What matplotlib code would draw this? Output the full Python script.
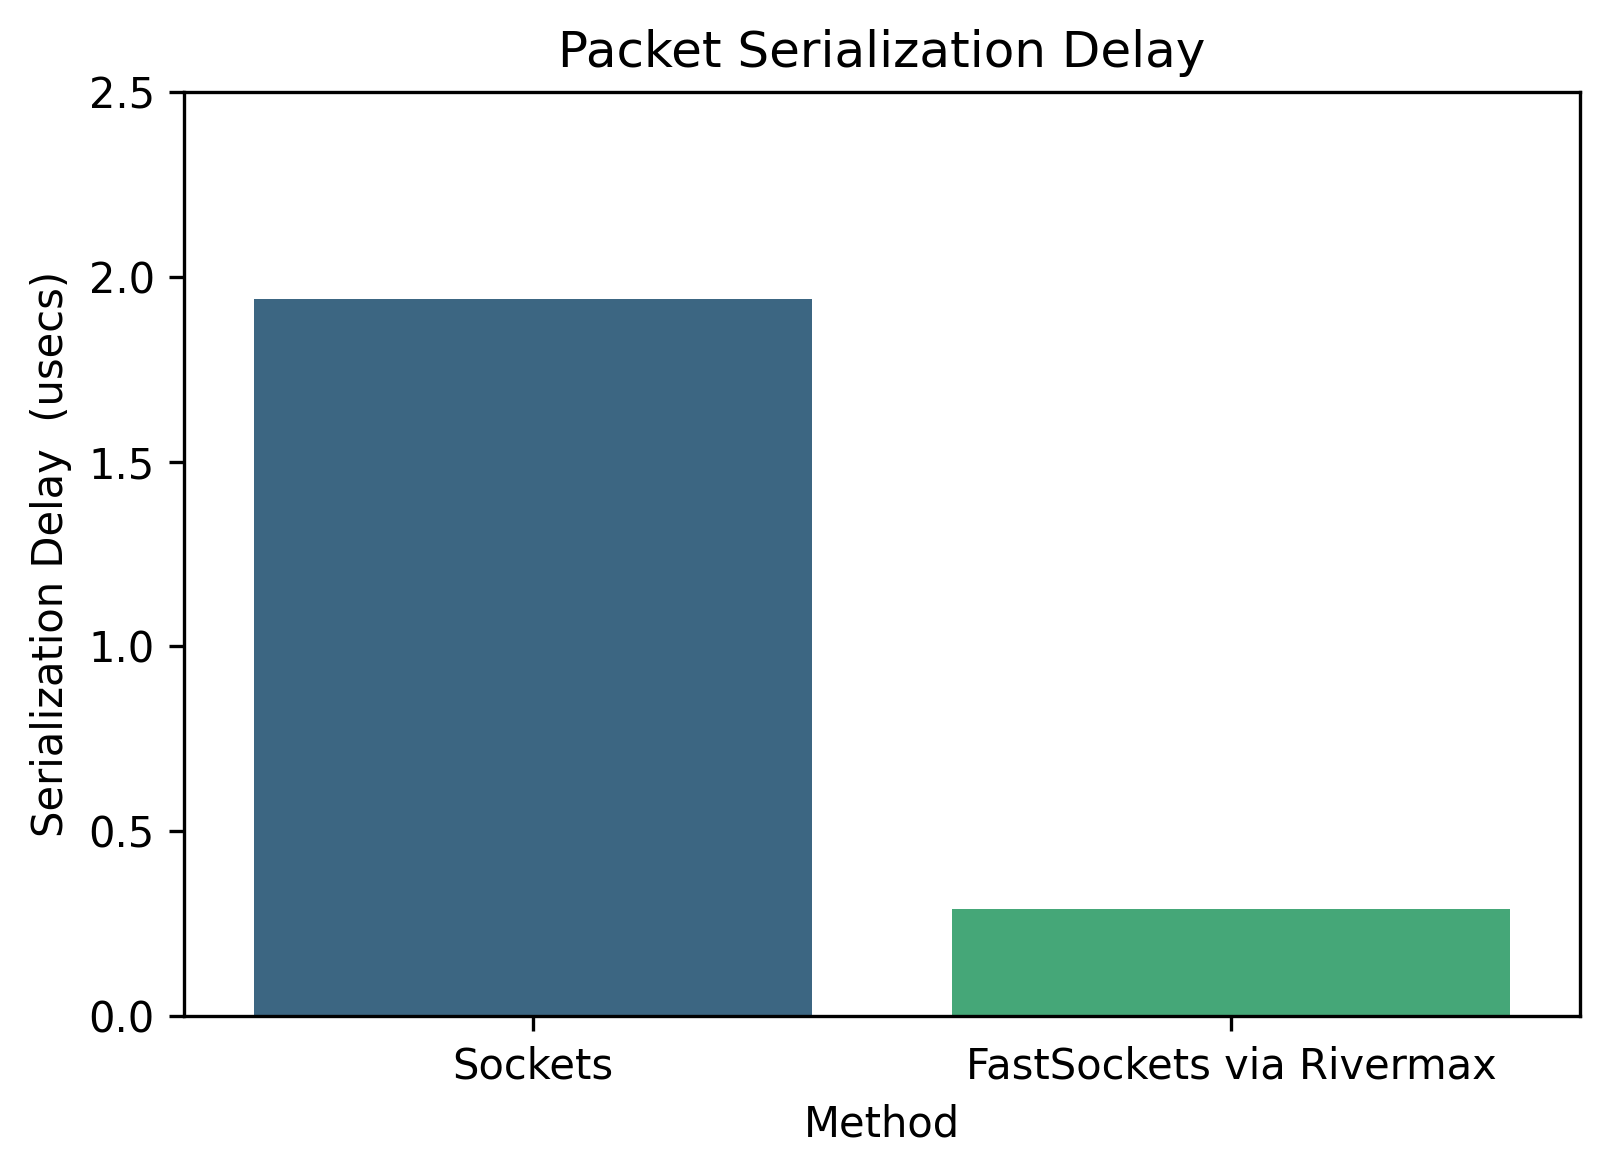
import matplotlib
matplotlib.use("Agg")
import matplotlib.pyplot as plt
import seaborn as sns
import pandas as pd

methods = ["Sockets", "FastSockets via Rivermax"]
delay_usecs = [1.94, 0.29]

df = pd.DataFrame({"Method": methods, "Delay": delay_usecs})

W, H = 1609, 1176
fig = plt.figure(figsize=(W / 300, H / 300), dpi=300)
# axes box measured on the reference, in pixels
ax = fig.add_axes([184 / W, 1 - 1016 / H, (1580 - 184) / W, (1016 - 92) / H])
sns.barplot(data=df, x="Method", y="Delay", hue="Method", palette="viridis", legend=False, ax=ax)

ax.set_ylim(0, 2.5)
ax.set_title("Packet Serialization Delay", fontsize=12)
ax.set_xlabel("Method")
ax.set_ylabel("Serialization Delay  (usecs)")

fig.savefig("out.png", dpi=300)
